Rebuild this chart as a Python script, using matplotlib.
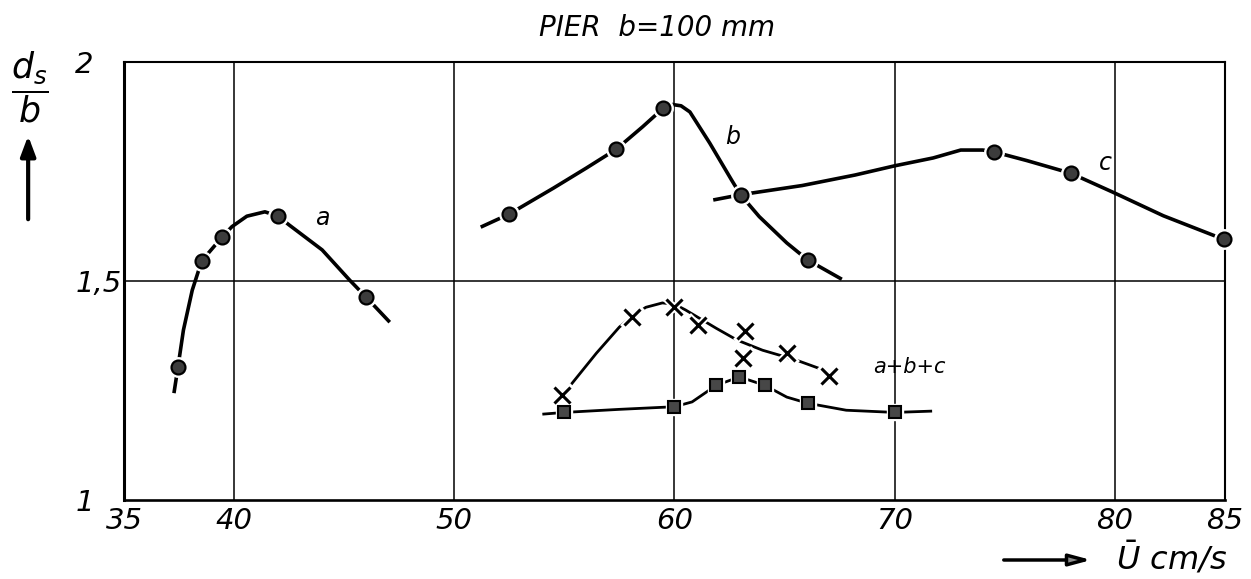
import matplotlib.pyplot as plt

# --- data ---
a_u = [37.45, 38.53, 39.45, 42.0, 46.0]
a_ds = [1.303, 1.546, 1.600, 1.648, 1.463]
a_line_u = [37.27, 37.45, 37.7, 38.1, 38.53, 39.45, 39.9, 40.58, 41.4, 42.0, 42.5, 44.0, 45.25, 46.0, 47.07]
a_line_ds = [1.244, 1.303, 1.388, 1.479, 1.546, 1.600, 1.624, 1.648, 1.658, 1.648, 1.628, 1.571, 1.502, 1.463, 1.406]

b_u = [52.5, 57.36, 59.5, 63.0, 66.05]
b_ds = [1.653, 1.801, 1.895, 1.697, 1.548]
b_line_u = [51.2, 52.5, 54.5, 56.0, 57.36, 58.55, 59.5, 59.9, 60.3, 60.7, 61.6, 62.6, 63.0, 63.85, 65.1, 66.05, 67.6]
b_line_ds = [1.623, 1.653, 1.712, 1.758, 1.801, 1.852, 1.895, 1.903, 1.900, 1.886, 1.815, 1.73, 1.697, 1.647, 1.587, 1.548, 1.504]

c_u = [74.5, 78.0, 84.95]
c_ds = [1.795, 1.746, 1.595]
c_line_u = [61.76, 63.0, 65.8, 68.2, 70.0, 71.75, 73.0, 74.0, 74.5, 76.0, 78.0, 79.9, 82.2, 84.95]
c_line_ds = [1.685, 1.697, 1.718, 1.742, 1.763, 1.781, 1.799, 1.799, 1.795, 1.775, 1.746, 1.703, 1.649, 1.595]

x_u = [54.87, 58.05, 60.0, 61.05, 63.2, 63.1, 65.1, 67.0]
x_ds = [1.240, 1.418, 1.441, 1.400, 1.386, 1.324, 1.335, 1.283]
x_line_u = [55.1, 56.45, 57.5, 58.05, 58.7, 59.45, 60.0, 60.5, 61.9, 62.85, 64.0, 65.5, 66.6]
x_line_ds = [1.251, 1.335, 1.395, 1.418, 1.44, 1.45, 1.447, 1.434, 1.392, 1.365, 1.342, 1.32, 1.30]

sq_u = [55.0, 60.0, 61.9, 62.95, 64.1, 66.05, 70.0]
sq_ds = [1.200, 1.213, 1.262, 1.281, 1.262, 1.221, 1.200]
sq_line_u = [54.0, 55.0, 57.5, 60.0, 60.8, 61.9, 62.95, 64.1, 65.1, 66.05, 67.8, 70.0, 71.7]
sq_line_ds = [1.196, 1.200, 1.207, 1.213, 1.224, 1.262, 1.281, 1.262, 1.235, 1.221, 1.205, 1.200, 1.203]

xticks = [35, 40, 50, 60, 70, 80, 85]
yticks = [1, 1.5, 2]
ytick_labels = ['1', '1,5', '2']

plt.rcParams['font.family'] = 'DejaVu Sans'
plt.rcParams['mathtext.fontset'] = 'dejavusans'

fig = plt.figure(figsize=(12.51, 5.79), dpi=100)
ax = fig.add_axes([0.0991, 0.1364, 0.8801, 0.7565])
ax.set_xlim(35, 85)
ax.set_ylim(1, 2)

# grid
for xv in [40, 50, 60, 70, 80]:
    ax.axvline(xv, color='black', lw=1.1, zorder=1)
ax.axhline(1.5, color='black', lw=1.1, zorder=1)

# curves
lw = 2.6
ax.plot(a_line_u, a_line_ds, color='black', lw=lw, solid_capstyle='butt', zorder=2)
ax.plot(b_line_u, b_line_ds, color='black', lw=lw, solid_capstyle='butt', zorder=2)
ax.plot(c_line_u, c_line_ds, color='black', lw=lw, solid_capstyle='butt', zorder=2)
ax.plot(x_line_u, x_line_ds, color='black', lw=2.0, solid_capstyle='butt', zorder=2)
ax.plot(sq_line_u, sq_line_ds, color='black', lw=2.0, solid_capstyle='butt', zorder=2)

# markers with a white halo so the lines break around them
for u, d in [(a_u, a_ds), (b_u, b_ds), (c_u, c_ds)]:
    ax.plot(u, d, 'o', ms=14, mfc='white', mec='white', zorder=3, clip_on=False)
    ax.plot(u, d, 'o', ms=10, mfc='#3c3c3c', mec='black', mew=1.6, zorder=4, clip_on=False)
ax.plot(x_u, x_ds, 'x', ms=15, mec='white', mew=5, zorder=3)
ax.plot(x_u, x_ds, 'x', ms=11, mec='black', mew=2.2, zorder=4)
ax.plot(sq_u, sq_ds, 's', ms=12, mfc='white', mec='white', zorder=3)
ax.plot(sq_u, sq_ds, 's', ms=9, mfc='#474747', mec='black', mew=1.5, zorder=4)

# curve labels
ax.text(44.0, 1.644, 'a', fontsize=17, style='italic', ha='center', va='center')
ax.text(62.66, 1.829, 'b', fontsize=17, style='italic', ha='center', va='center')
ax.text(79.55, 1.769, 'c', fontsize=17, style='italic', ha='center', va='center')
ax.text(70.65, 1.304, 'a+b+c', fontsize=15, style='italic', ha='center', va='center')

# axes styling
ax.spines['left'].set_linewidth(2.2)
ax.spines['bottom'].set_linewidth(1.9)
ax.spines['top'].set_linewidth(1.5)
ax.spines['right'].set_linewidth(1.5)
ax.set_xticks(xticks)
ax.set_xticklabels([str(t) for t in xticks], fontsize=21, style='italic')
ax.set_yticks(yticks)
ax.set_yticklabels(ytick_labels, fontsize=21, style='italic')
ax.tick_params(axis='x', length=0, pad=5)
ax.tick_params(axis='y', length=0, pad=35)
for label in ax.get_yticklabels():
    label.set_horizontalalignment('left')

# title and axis captions
fig.text(0.525, 0.951, 'PIER  b=100 mm', fontsize=20, style='italic', ha='center', va='center')
fig.text(0.0235, 0.85, r'$\dfrac{d_s}{b}$', fontsize=25, ha='center', va='center')
ax.annotate('', xy=(0.0225, 1 - 133 / 579), xytext=(0.0225, 1 - 222 / 579),
            xycoords='figure fraction', textcoords='figure fraction',
            arrowprops=dict(arrowstyle='-|>,head_length=1.2,head_width=0.45', lw=3, color='black'))
ax.annotate('', xy=(1094 / 1251, 1 - 560 / 579), xytext=(1001 / 1251, 1 - 560 / 579),
            xycoords='figure fraction', textcoords='figure fraction',
            arrowprops=dict(arrowstyle='-|>,head_length=1.3,head_width=0.35', lw=2.5,
                            ec='black', fc='0.55'))
fig.text(1116 / 1251, 1 - 558 / 579, r'$\bar{U}$ cm/s', fontsize=23, style='italic',
         ha='left', va='center')

fig.savefig('out.png', dpi=100)
